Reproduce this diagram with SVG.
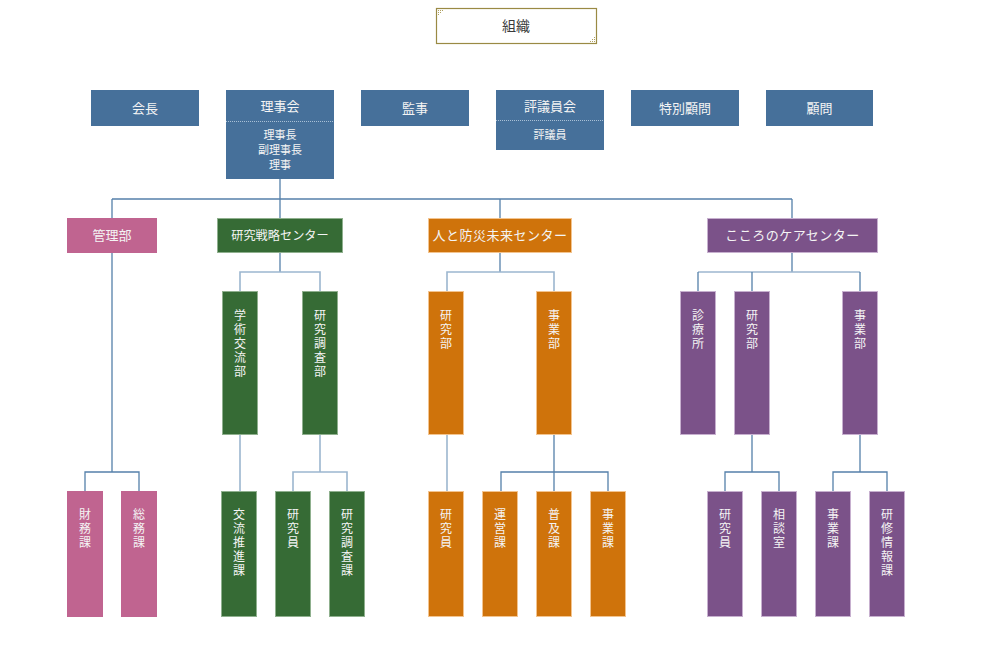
<svg xmlns="http://www.w3.org/2000/svg" width="988" height="654" viewBox="0 0 988 654">
<style>
text{font-family:"Noto Sans CJK JP","Noto Sans",sans-serif;fill:#f4f4f4;text-anchor:middle}
.h{font-size:13px}
.s{font-size:11px}
.v{font-size:12px;writing-mode:vertical-rl;text-anchor:start;letter-spacing:2px}
.blue{fill:#46709a}
.pink{fill:#c06490}
.green{fill:#366b35;stroke:#8fb08e;stroke-width:1}
.orange{fill:#cf730b;stroke:#f3c48f;stroke-width:1}
.purple{fill:#7b5289;stroke:#c7b0cf;stroke-width:1}
.dk{stroke:#5580aa;stroke-width:1.3;fill:none}
.lt{stroke:#9cb6cf;stroke-width:1.6;fill:none}
.dot{stroke:#a9c0d6;stroke-width:1;stroke-dasharray:1 1}
</style>
<rect width="988" height="654" fill="#ffffff"/>
<g id="title">
<rect x="436.5" y="8.5" width="160" height="35" fill="#ffffff" stroke="#9a8a44" stroke-width="1.2"/>
<g fill="#b0a060"><rect x="438" y="10" width="1" height="1"/><rect x="440" y="10" width="1" height="1"/><rect x="442" y="10" width="1" height="1"/><rect x="438" y="12" width="1" height="1"/><rect x="440" y="12" width="1" height="1"/><rect x="438" y="14" width="1" height="1"/>
<rect x="594" y="41" width="1" height="1"/><rect x="592" y="41" width="1" height="1"/><rect x="590" y="41" width="1" height="1"/><rect x="594" y="39" width="1" height="1"/><rect x="592" y="39" width="1" height="1"/><rect x="594" y="37" width="1" height="1"/></g>
<text x="516" y="31" style="font-size:14px;fill:#3a3a3a">組織</text>
</g>
<g id="connectors">
<path class="dk" d="M280 179V218M112 199H792M112 199V218M500 199V218M792 199V218"/>
<path class="dk" d="M112 253V472M85 491V472H139V491"/>
<path class="dk" d="M280 253V272"/>
<path class="lt" d="M240 291V272H320V291"/>
<path class="lt" d="M240 435V491M320 435V472M293 491V472H347V491"/>
<path class="dk" d="M500 253V272"/>
<path class="lt" d="M447 291V272H554V291"/>
<path class="lt" d="M447 435V491"/>
<path class="dk" d="M554 435V491M501 491V472H608V491"/>
<path class="dk" d="M792 253V272"/>
<path class="lt" d="M698 272H860"/>
<path class="dk" d="M698 272V291M752 272V291M860 272V291"/>
<path class="dk" d="M752 435V472M725 491V472H779V491"/>
<path class="dk" d="M860 435V472M833 491V472H887V491"/>
</g>
<g id="kaicho"><rect class="blue" x="91" y="90" width="108" height="36"/><text class="h" x="145" y="112.5">会長</text></g>
<g id="rijikai"><rect class="blue" x="226" y="90" width="108" height="89"/><line class="dot" x1="226" y1="121.5" x2="334" y2="121.5"/>
<text class="h" x="280" y="110.5">理事会</text>
<text class="s" x="280" y="139">理事長</text><text class="s" x="280" y="154">副理事長</text><text class="s" x="280" y="169">理事</text></g>
<g id="kanji"><rect class="blue" x="361" y="90" width="108" height="36"/><text class="h" x="415" y="112.5">監事</text></g>
<g id="hyogiinkai"><rect class="blue" x="496" y="90" width="108" height="60"/><line class="dot" x1="496" y1="120.5" x2="604" y2="120.5"/>
<text class="h" x="550" y="110.5">評議員会</text><text class="s" x="550" y="139">評議員</text></g>
<g id="tokubetsu"><rect class="blue" x="631" y="90" width="108" height="36"/><text class="h" x="685" y="112.5">特別顧問</text></g>
<g id="komon"><rect class="blue" x="766" y="90" width="107" height="36"/><text class="h" x="819.5" y="112.5">顧問</text></g>

<g id="kanribu"><rect class="pink" x="67" y="218" width="90" height="35"/><text class="h" x="112" y="240">管理部</text></g>
<g id="kenkyusenryaku"><rect class="green" x="217.5" y="218.5" width="125" height="34"/><text class="h" x="280" y="240" style="font-size:12.2px">研究戦略センター</text></g>
<g id="hitoto"><rect class="orange" x="428.5" y="218.5" width="143" height="34"/><text class="h" x="500" y="240" style="letter-spacing:0.5px">人と防災未来センター</text></g>
<g id="kokoro"><rect class="purple" x="707.5" y="218.5" width="170" height="34"/><text class="h" x="792.5" y="240" style="letter-spacing:0.5px">こころのケアセンター</text></g>

<g id="gakujutsu"><rect class="green" x="222.5" y="291.5" width="35" height="143"/><text class="v" x="240" y="309">学術交流部</text></g>
<g id="kenkyuchosabu"><rect class="green" x="302.5" y="291.5" width="35" height="143"/><text class="v" x="320" y="309">研究調査部</text></g>
<g id="hito_kenkyubu"><rect class="orange" x="428.5" y="291.5" width="35" height="143"/><text class="v" x="446" y="309">研究部</text></g>
<g id="hito_jigyobu"><rect class="orange" x="536.5" y="291.5" width="35" height="143"/><text class="v" x="554" y="309">事業部</text></g>
<g id="shinryojo"><rect class="purple" x="680.5" y="291.5" width="35" height="143"/><text class="v" x="698" y="309">診療所</text></g>
<g id="kokoro_kenkyubu"><rect class="purple" x="734.5" y="291.5" width="35" height="143"/><text class="v" x="752" y="309">研究部</text></g>
<g id="kokoro_jigyobu"><rect class="purple" x="842.5" y="291.5" width="35" height="143"/><text class="v" x="860" y="309">事業部</text></g>

<g id="zaimuka"><rect class="pink" x="67" y="491" width="36" height="126"/><text class="v" x="85" y="508">財務課</text></g>
<g id="somuka"><rect class="pink" x="121" y="491" width="36" height="126"/><text class="v" x="139" y="508">総務課</text></g>
<g id="koryusuishin"><rect class="green" x="221.5" y="491.5" width="35" height="125"/><text class="v" x="239" y="508">交流推進課</text></g>
<g id="senryaku_kenkyuin"><rect class="green" x="275.5" y="491.5" width="35" height="125"/><text class="v" x="293" y="508">研究員</text></g>
<g id="kenkyuchosaka"><rect class="green" x="329.5" y="491.5" width="35" height="125"/><text class="v" x="347" y="508">研究調査課</text></g>
<g id="hito_kenkyuin"><rect class="orange" x="428.5" y="491.5" width="35" height="125"/><text class="v" x="446" y="508">研究員</text></g>
<g id="uneika"><rect class="orange" x="482.5" y="491.5" width="35" height="125"/><text class="v" x="500" y="508">運営課</text></g>
<g id="fukyuka"><rect class="orange" x="536.5" y="491.5" width="35" height="125"/><text class="v" x="554" y="508">普及課</text></g>
<g id="hito_jigyoka"><rect class="orange" x="590.5" y="491.5" width="35" height="125"/><text class="v" x="608" y="508">事業課</text></g>
<g id="kokoro_kenkyuin"><rect class="purple" x="707.5" y="491.5" width="35" height="125"/><text class="v" x="725" y="508">研究員</text></g>
<g id="sodanshitsu"><rect class="purple" x="761.5" y="491.5" width="35" height="125"/><text class="v" x="779" y="508">相談室</text></g>
<g id="kokoro_jigyoka"><rect class="purple" x="815.5" y="491.5" width="35" height="125"/><text class="v" x="833" y="508">事業課</text></g>
<g id="kenshujoho"><rect class="purple" x="869.5" y="491.5" width="35" height="125"/><text class="v" x="887" y="508">研修情報課</text></g>
</svg>
